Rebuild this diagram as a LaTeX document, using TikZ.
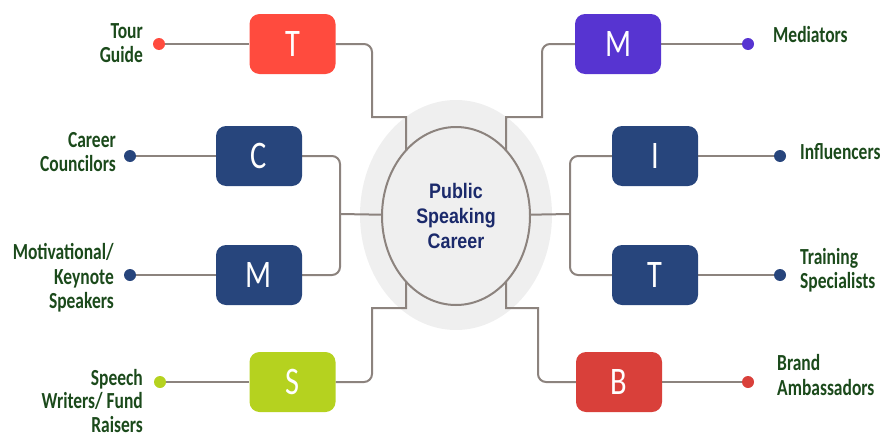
\documentclass[tikz,border=0pt]{standalone}
\usepackage{fontspec}
\setmainfont{Carlito}
\newfontfamily\arialf{Liberation Sans}
\usepackage{graphicx}
\usetikzlibrary{shapes.geometric}
\pgfdeclarelayer{bglayer}
\pgfdeclarelayer{midlayer}
\pgfsetlayers{bglayer,midlayer,main}
\definecolor{redA}{HTML}{FF4B3E}
\definecolor{redB}{HTML}{D9403A}
\definecolor{navy}{HTML}{27457C}
\definecolor{purp}{HTML}{5734D1}
\definecolor{lime}{HTML}{B5D21F}
\definecolor{linec}{HTML}{8C837E}
\definecolor{labg}{HTML}{1B4A1B}
\definecolor{ctxt}{HTML}{1B2A6B}
\definecolor{bgc}{HTML}{EFEFEF}
\newcommand{\sq}[1]{\scalebox{0.85}[1]{#1}}
\newcommand{\sql}[1]{\scalebox{0.76}[1]{#1}}
\newcommand{\sqb}[1]{\scalebox{0.78}[1]{#1}}
\tikzset{
  letterbox/.style={rounded corners=10pt, minimum width=86pt, minimum height=60pt, inner sep=0pt,
    text=white, font=\fontsize{39}{39}\selectfont},
  conn/.style={draw=linec, line width=2pt},
  dotn/.style={circle, minimum size=12pt, inner sep=0pt},
  lab/.style={text=labg, font=\bfseries\fontsize{23}{24.5}\selectfont, inner sep=0pt},
}
\begin{document}
\begin{tikzpicture}[x=1pt,y=-1pt]
\useasboundingbox (0,0) rectangle (883,439);
% centre
\begin{pgfonlayer}{bglayer}
\fill[bgc] (456,215) ellipse [x radius=96pt, y radius=115pt];
\end{pgfonlayer}
\node[ellipse, draw=linec, line width=2pt, fill=bgc, minimum width=148pt, minimum height=178pt, inner sep=0pt,
  text=ctxt, font=\arialf\bfseries\fontsize{21}{25}\selectfont, align=center] (ctr) at (456,216)
  {\sq{\textbf{Public}}\\\sq{\textbf{Speaking}}\\\sq{\textbf{Career}}};
% boxes
\node[letterbox, fill=redA] (T1) at (292.5,44) {\sqb{T}};
\node[letterbox, fill=navy] (C) at (259,156) {\sqb{C}};
\node[letterbox, fill=navy] (M1) at (259,275) {\sqb{M}};
\node[letterbox, fill=lime] (S) at (292.5,382) {\sqb{S}};
\node[letterbox, fill=purp] (M2) at (618,44) {\sqb{M}};
\node[letterbox, fill=navy] (I) at (655,156) {\sqb{I}};
\node[letterbox, fill=navy] (T2) at (655,275) {\sqb{T}};
\node[letterbox, fill=redB] (B) at (619,382) {\sqb{B}};
% dots
\node[dotn, fill=redA] (dT1) at (159,44) {};
\node[dotn, fill=navy] (dC) at (130,156) {};
\node[dotn, fill=navy] (dM1) at (130,275) {};
\node[dotn, fill=lime] (dS) at (160,382) {};
\node[dotn, fill=purp] (dM2) at (748,44) {};
\node[dotn, fill=navy] (dI) at (780,156) {};
\node[dotn, fill=navy] (dT2) at (780,275) {};
\node[dotn, fill=redB] (dB) at (748,382) {};
% labels
\node[lab, anchor=east, align=right] (lT1) at (143,43) {\sql{\textbf{Tour}}\\\sql{\textbf{Guide}}};
\node[lab, anchor=east, align=right] (lC) at (116,152) {\sql{\textbf{Career}}\\\sql{\textbf{Councilors}}};
\node[lab, anchor=east, align=right] (lM1) at (114,278) {\sql{\textbf{Motivational/}}\\\sql{\textbf{Keynote}}\\\sql{\textbf{Speakers}}};
\node[lab, anchor=east, align=right, font=\bfseries\fontsize{23}{23.5}\selectfont] (lS) at (143,401) {\sql{\textbf{Speech}}\\\sql{\textbf{Writers/ Fund}}\\\sql{\textbf{Raisers}}};
\node[lab, anchor=west, align=left] (lM2) at (773,35) {\sql{\textbf{Mediators}}};
\node[lab, anchor=west, align=left] (lI) at (800,152) {\sql{\textbf{Influencers}}};
\node[lab, anchor=west, align=left] (lT2) at (800,270) {\sql{\textbf{Training}}\\\sql{\textbf{Specialists}}};
\node[lab, anchor=west, align=left] (lB) at (777,375) {\sql{\textbf{Brand}}\\\sql{\textbf{Ambassadors}}};
% connectors
\coordinate (jl) at (340,214);
\coordinate (jr) at (570,214);
\begin{pgfonlayer}{midlayer}
\draw[conn] (dT1) -- (T1.west);
\draw[conn] (dC) -- (C.west);
\draw[conn] (dM1) -- (M1.west);
\draw[conn] (dS) -- (S.west);
\draw[conn] (dM2) -- (M2.east);
\draw[conn] (dI) -- (I.east);
\draw[conn] (dT2) -- (T2.east);
\draw[conn] (dB) -- (B.east);
\draw[conn] (T1.east) [rounded corners=8pt] -- (372,44) -- (372,80) [sharp corners] -- (372,117) -- (406,117) -- (406,214);
\draw[conn] (S.east) [rounded corners=8pt] -- (372,382) -- (372,340) [sharp corners] -- (372,308) -- (406,308) -- (406,214);
\draw[conn] (C.east) [rounded corners=8pt] -- (340,156) -- (340,275) -- (M1.east);
\draw[conn] (jl) -- (ctr.center);
\draw[conn] (M2.west) [rounded corners=8pt] -- (542,44) -- (542,80) [sharp corners] -- (542,117) -- (506,117) -- (506,214);
\draw[conn] (B.west) [rounded corners=8pt] -- (538,382) -- (538,340) [sharp corners] -- (538,308) -- (506,308) -- (506,214);
\draw[conn] (I.west) [rounded corners=8pt] -- (570,156) -- (570,275) -- (T2.west);
\draw[conn] (jr) -- (ctr.center);
\end{pgfonlayer}
\end{tikzpicture}
\end{document}
